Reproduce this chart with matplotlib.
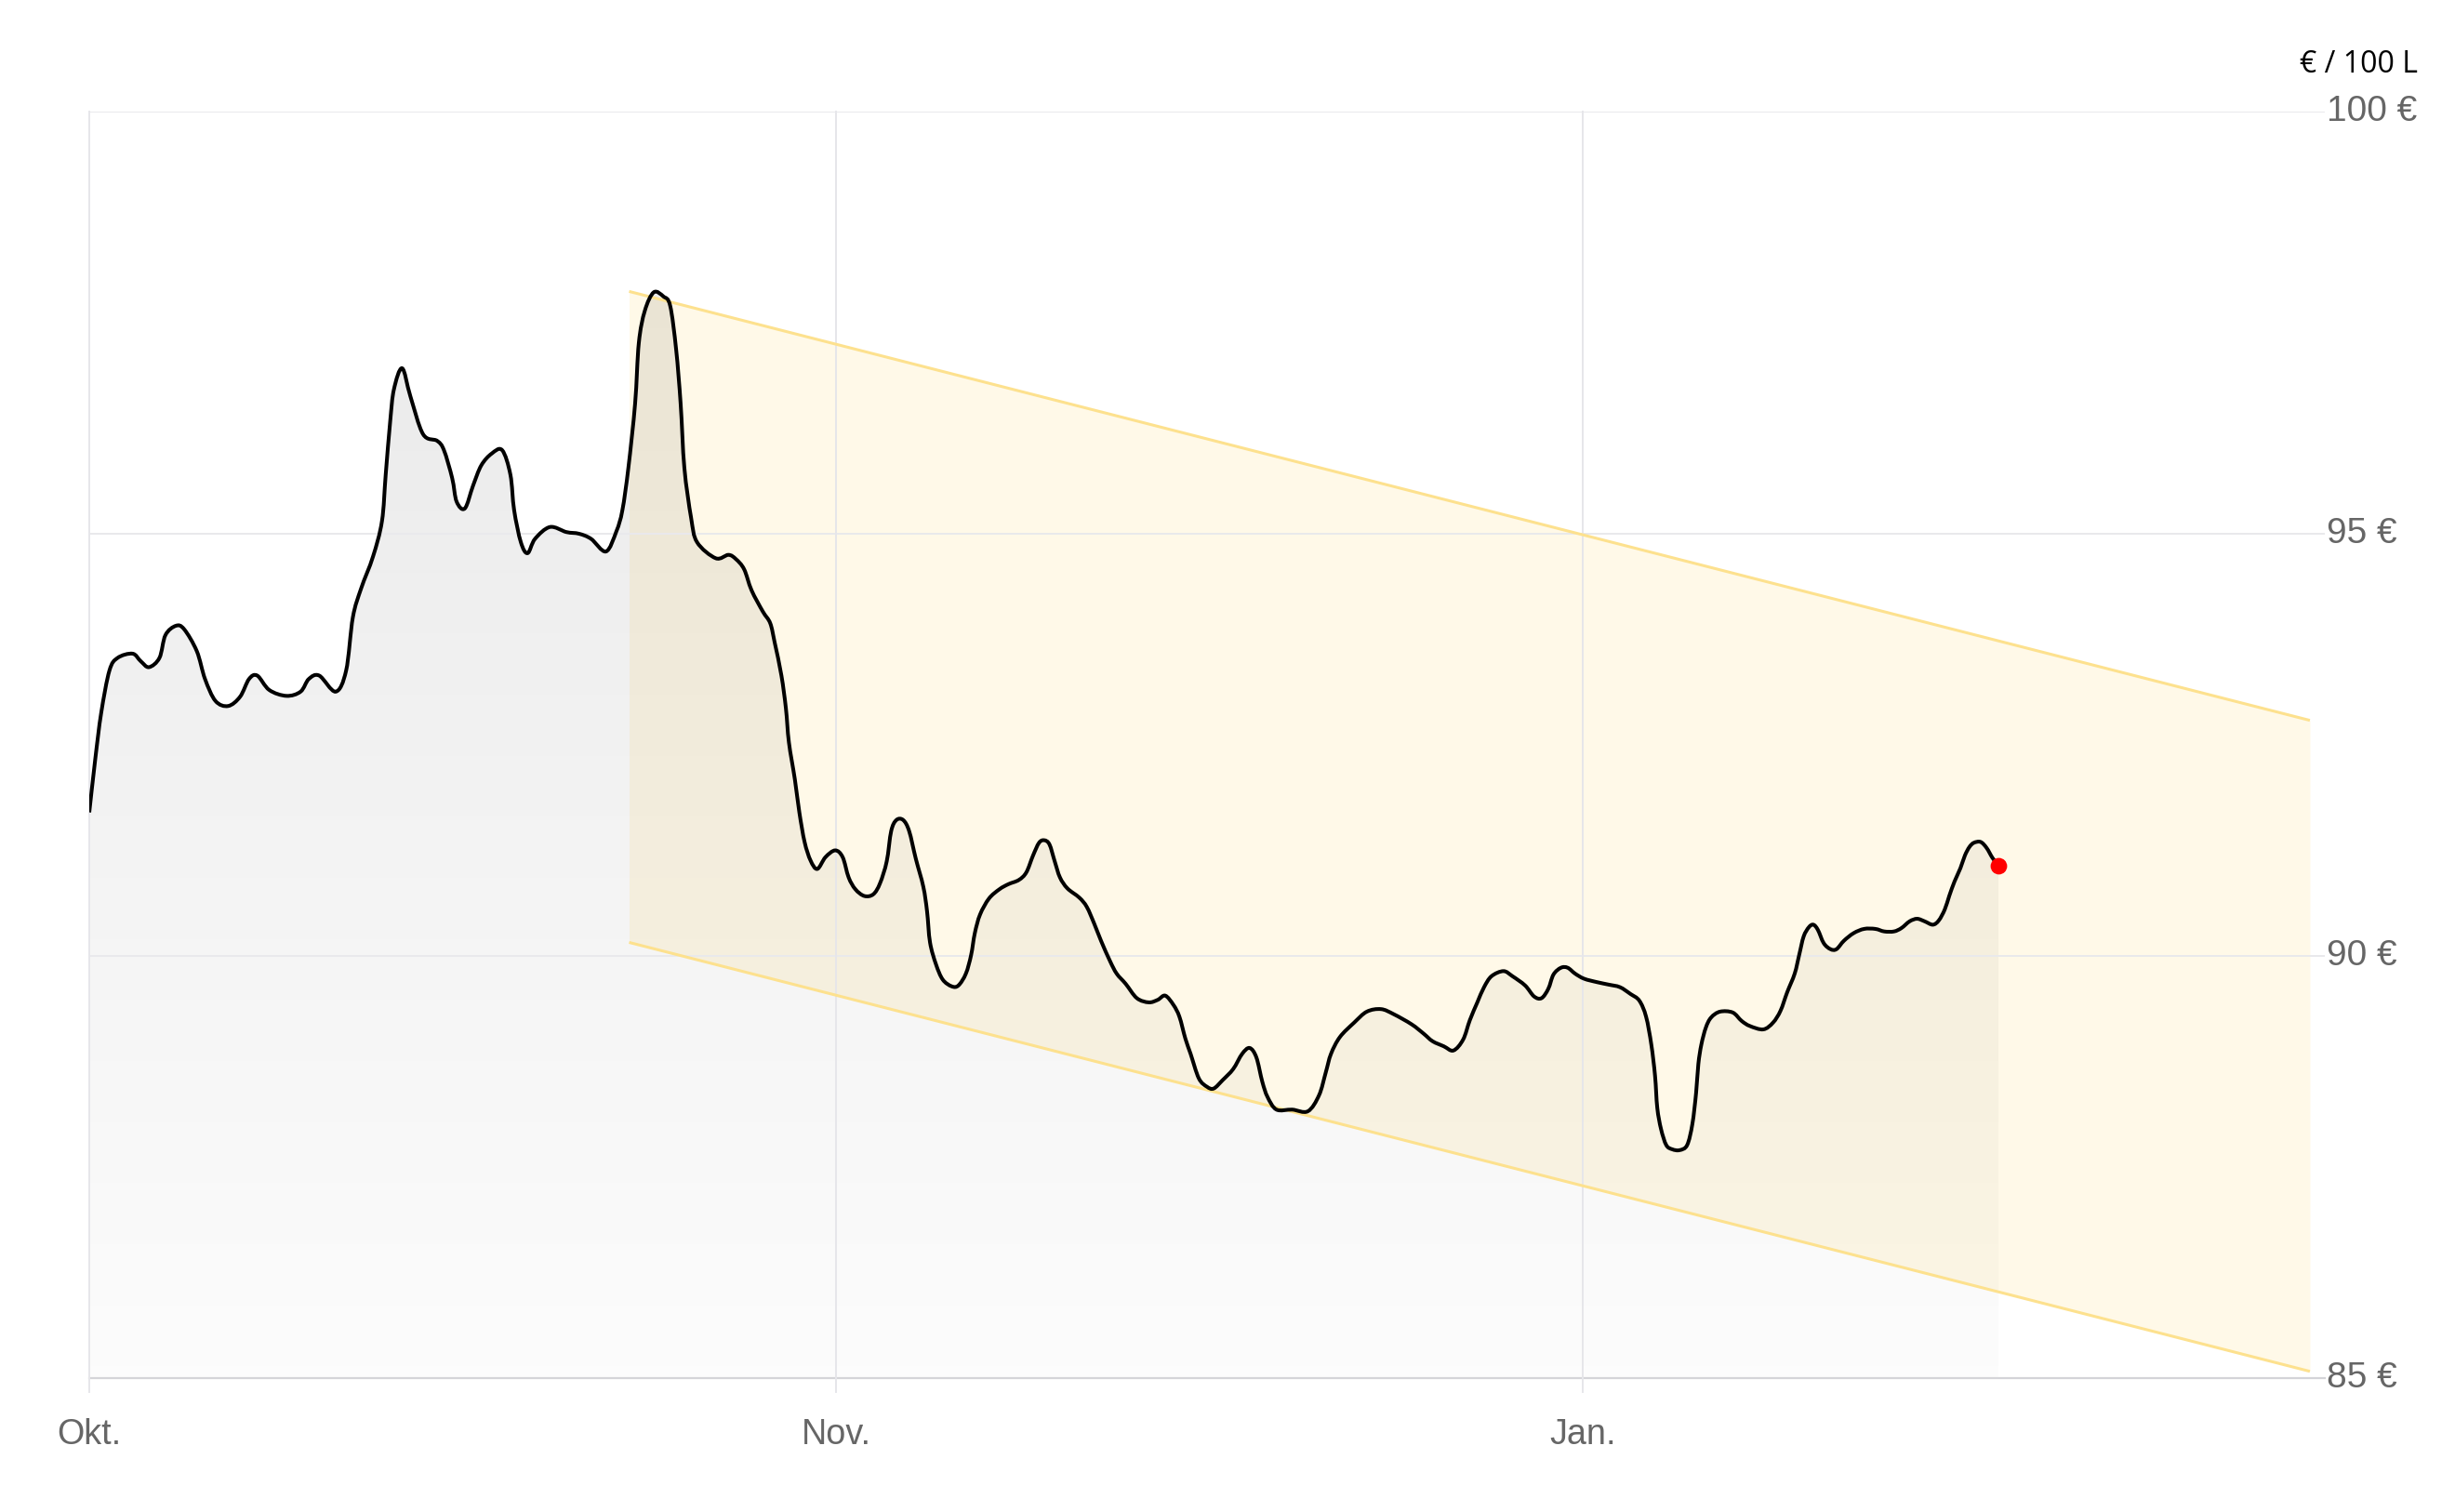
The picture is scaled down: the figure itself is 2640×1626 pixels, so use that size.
import numpy as np
import matplotlib
matplotlib.use("Agg")
import matplotlib.pyplot as plt
from matplotlib.colors import LinearSegmentedColormap
from matplotlib.path import Path
from matplotlib.patches import PathPatch

# ---------------- data ----------------
x_ticks = [0, 100, 200]
x_labels = ["Okt.", "Nov.", "Jan."]
y_ticks = [85, 90, 95, 100]
y_labels = ["85 €", "90 €", "95 €", "100 €"]
unit_label = "€ / 100 L"

price_x = [
    0.0, 0.8, 1.6, 2.7, 3.8, 5.8, 6.9, 8.0, 9.4, 10.2, 11.6, 12.7, 14.4, 15.5, 16.9,
    18.6, 20.2, 21.4, 22.5, 24.1, 26.4, 28.3, 29.4, 30.8, 33.0, 34.4, 35.3, 36.4, 38.0,
    39.2, 39.7, 40.3, 40.8, 41.9, 43.0, 44.7, 46.6, 47.5, 48.6, 49.2, 50.3, 51.4, 52.5,
    53.9, 55.3, 56.4, 56.9, 57.8, 58.7, 59.7, 61.7, 63.9, 65.6, 67.2, 69.2, 70.6, 71.4,
    72.2, 73.1, 73.6, 74.4, 75.6, 76.9, 77.8, 78.6, 79.2, 79.7, 80.6, 81.4, 83.9, 85.6,
    86.6, 87.7, 88.7, 90.2, 91.2, 91.8, 92.7, 93.3, 93.7, 94.5, 95.1, 95.8, 96.6, 97.5,
    98.6, 99.9, 100.9, 101.7, 102.6, 103.8, 105.0, 105.9, 106.8, 107.4, 108.1, 109.0,
    109.8, 110.7, 111.7, 112.2, 112.6, 113.4, 114.3, 115.5, 116.4, 117.4, 118.1, 118.6,
    119.3, 120.5, 121.9, 123.1, 124.5, 125.5, 126.4, 127.2, 127.9, 128.6, 129.3, 130.0,
    131.0, 132.6, 133.6, 134.6, 135.5, 136.7, 137.6, 138.8, 140.3, 141.9, 143.1, 144.1,
    145.2, 146.0, 146.8, 147.5, 148.6, 149.7, 150.6, 151.8, 153.2, 154.4, 155.4, 156.3,
    157.1, 157.8, 159.0, 161.1, 163.2, 164.7, 165.6, 166.3, 167.5, 169.4, 171.1, 173.0,
    174.7, 177.1, 178.7, 179.9, 181.4, 182.7, 184.0, 184.9, 185.9, 186.8, 187.8, 189.4,
    190.6, 192.3, 193.5, 194.5, 195.4, 196.1, 197.1, 198.0, 199.0, 200.2, 201.9, 203.5,
    205.0, 206.4, 207.6, 208.5, 209.2, 209.7, 210.0, 210.5, 211.2, 212.0, 213.0, 214.0,
    214.7, 215.2, 215.5, 215.9, 216.5, 217.2, 218.4, 220.1, 221.3, 222.4, 224.2, 225.5,
    226.5, 227.4, 228.4, 229.0, 229.6, 230.3, 230.9, 231.5, 232.3, 233.2, 234.0, 235.0,
    236.3, 237.7, 239.2, 240.4, 241.7, 242.7, 243.8, 244.8, 245.8, 246.9, 247.7, 248.5,
    249.1, 249.8, 250.6, 251.2, 251.8, 252.4, 253.3, 254.1, 254.9, 255.7,
]
price_y = [
    91.70, 92.33, 92.88, 93.38, 93.53, 93.58, 93.49, 93.42, 93.53, 93.80, 93.91, 93.87,
    93.61, 93.28, 93.02, 92.96, 93.07, 93.28, 93.32, 93.15, 93.08, 93.13, 93.28, 93.32,
    93.13, 93.38, 94.01, 94.35, 94.73, 95.15, 95.70, 96.33, 96.71, 96.96, 96.63, 96.18,
    96.10, 95.99, 95.66, 95.38, 95.30, 95.57, 95.81, 95.95, 95.99, 95.70, 95.28, 94.90,
    94.77, 94.94, 95.08, 95.02, 95.00, 94.94, 94.79, 95.03, 95.28, 95.78, 96.54, 97.26,
    97.64, 97.86, 97.81, 97.70, 97.18, 96.54, 95.78, 95.19, 94.90, 94.71, 94.75, 94.70,
    94.58, 94.33, 94.08, 93.94, 93.71, 93.32, 92.93, 92.53, 92.09, 91.70, 91.35, 91.13,
    91.03, 91.17, 91.25, 91.17, 90.93, 90.79, 90.71, 90.73, 90.86, 91.12, 91.48, 91.61,
    91.61, 91.48, 91.15, 90.82, 90.53, 90.16, 89.90, 89.72, 89.64, 89.65, 89.79, 90.01,
    90.27, 90.49, 90.68, 90.79, 90.85, 90.90, 90.99, 91.19, 91.34, 91.37, 91.32, 91.12,
    90.93, 90.80, 90.69, 90.58, 90.38, 90.18, 89.94, 89.79, 89.67, 89.50, 89.45, 89.48,
    89.53, 89.42, 89.28, 89.02, 88.84, 88.55, 88.45, 88.43, 88.53, 88.66, 88.84, 88.91,
    88.80, 88.51, 88.33, 88.18, 88.18, 88.16, 88.35, 88.62, 88.84, 89.04, 89.21, 89.34,
    89.37, 89.31, 89.19, 89.08, 88.99, 88.93, 88.88, 89.01, 89.24, 89.45, 89.63, 89.76,
    89.82, 89.76, 89.65, 89.52, 89.50, 89.61, 89.78, 89.86, 89.86, 89.79, 89.73, 89.69,
    89.66, 89.63, 89.55, 89.47, 89.28, 88.95, 88.58, 88.20, 87.95, 87.76, 87.71, 87.70,
    87.76, 88.01, 88.38, 88.72, 88.95, 89.15, 89.27, 89.34, 89.33, 89.23, 89.17, 89.13,
    89.21, 89.35, 89.57, 89.79, 90.01, 90.23, 90.34, 90.37, 90.31, 90.15, 90.08, 90.08,
    90.18, 90.27, 90.32, 90.32, 90.29, 90.29, 90.33, 90.41, 90.44, 90.41, 90.37, 90.42,
    90.55, 90.71, 90.88, 91.04, 91.19, 91.29, 91.34, 91.35, 91.28, 91.16, 91.07,
]

channel_x = [72.3, 297.4]
channel_top = [97.87, 92.79]
channel_bottom = [90.16, 85.08]

# ---------------- figure ----------------
W, H, DPI = 2640, 1626, 200
XMAX = 299.4
fig = plt.figure(figsize=(W / DPI, H / DPI), dpi=DPI, facecolor="white")
ax = fig.add_axes([96 / W, 1 - 1482 / H, (2500 - 96) / W, (1482 - 120) / H])
ax.set_xlim(0, XMAX)
ax.set_ylim(85, 100)
ax.set_facecolor("white")
for s in ax.spines.values():
    s.set_visible(False)
ax.set_xticks([])
ax.set_yticks([])

px = np.array(price_x)
py = np.array(price_y)


def smooth_path_vertices(x, y):
    """Catmull-Rom through the points, expressed as cubic Bezier segments."""
    P = np.column_stack([x, y])
    n = len(P)
    verts = [P[0]]
    codes = [Path.MOVETO]
    for i in range(n - 1):
        p0 = P[i - 1] if i > 0 else P[i]
        p1 = P[i]
        p2 = P[i + 1]
        p3 = P[i + 2] if i + 2 < n else P[i + 1]
        c1 = p1 + (p2 - p0) / 6.0
        c2 = p2 - (p3 - p1) / 6.0
        verts += [c1, c2, p2]
        codes += [Path.CURVE4] * 3
    return np.array(verts), codes


lv, lc = smooth_path_vertices(px, py)
line_path = Path(lv, lc)

# channel
ax.fill_between(channel_x, channel_bottom, channel_top, color="#fff9e8", zorder=1, lw=0)
ax.plot(channel_x, channel_top, color="#fde18e", lw=1.1, zorder=4, solid_capstyle="butt")
ax.plot(channel_x, channel_bottom, color="#fde18e", lw=1.1, zorder=4, solid_capstyle="butt")

# gradient gray fill under price
fv = np.vstack([[px[0], 85], lv, [px[-1], 85], [px[0], 85]])
fc = [Path.MOVETO, Path.LINETO] + list(lc[1:]) + [Path.LINETO, Path.CLOSEPOLY]
fill_path = Path(fv, fc)
grad = np.linspace(0.015, 0.085, 256).reshape(-1, 1)
cmap = LinearSegmentedColormap.from_list("g", [(0, 0, 0, 0), (0, 0, 0, 1)])
img = ax.imshow(grad, extent=[px[0], px[-1], 85, 98.0], origin="lower",
                cmap=cmap, vmin=0, vmax=1, aspect="auto", zorder=2,
                interpolation="bilinear")
img.set_clip_path(fill_path, transform=ax.transData)

# grid lines
for yt in y_ticks[1:]:
    ax.plot([0, XMAX], [yt, yt], color="#e9e9ec", lw=0.7, zorder=3)
ax.plot([0, XMAX], [85, 85], color="#d4d4d8", lw=0.8, zorder=3, clip_on=False)
for xt in x_ticks:
    ax.plot([xt, xt], [84.83, 100], color="#e6e6ea", lw=0.7, zorder=3, clip_on=False)

# price line
ax.add_patch(PathPatch(line_path, facecolor="none", edgecolor="black", lw=1.45,
                       zorder=5, joinstyle="round", capstyle="butt"))
ax.plot([px[-1]], [py[-1]], "o", color="#ff0000", ms=6.4, mec="none", zorder=6)

# labels
for yt, lab in zip(y_ticks, y_labels):
    ax.text(XMAX + 0.2, yt, lab, ha="left", va="center", fontsize=14,
            color="#666666", family="Liberation Sans", clip_on=False)
for xt, lab in zip(x_ticks, x_labels):
    ax.text(xt, 85 - 61 / 90.8, lab, ha="center", va="center", fontsize=13.6,
            color="#666666", family="Liberation Sans", clip_on=False)
fig.text(2600 / W, 1 - 70 / H, unit_label, ha="right", va="center", fontsize=11.5,
         color="black", family="Open Sans")

fig.savefig("out.png", dpi=DPI, facecolor="white")
